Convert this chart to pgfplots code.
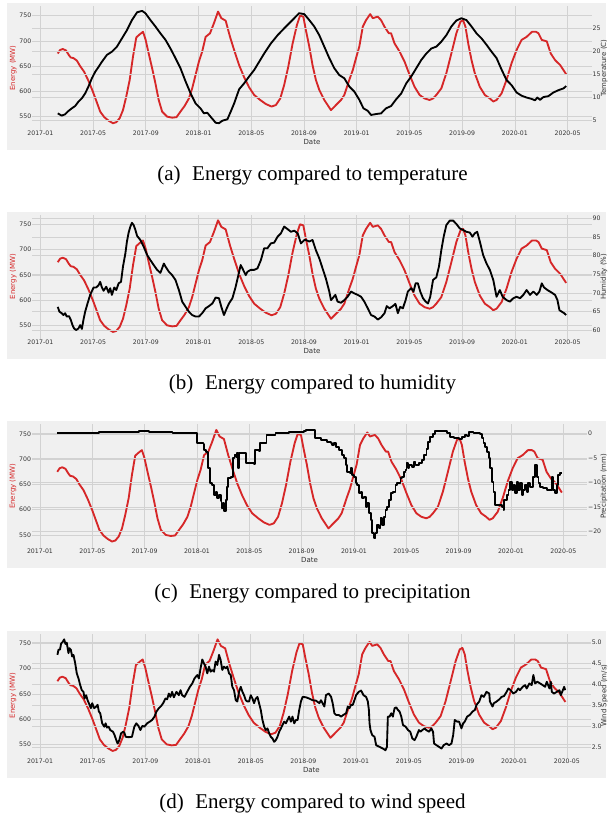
\documentclass[border=0pt]{standalone}
\usepackage{pgfplots}
\usepackage{pgfplotstable}
\pgfplotsset{compat=1.18}
\usepackage{fontspec}
\setmainfont{DejaVu Sans}
\newfontfamily\capfont{Liberation Serif}
\definecolor{bggrey}{HTML}{F0F0F0}
\definecolor{gridgrey}{HTML}{D2D2D2}
\definecolor{ered}{HTML}{D62728}
\definecolor{tickgrey}{HTML}{333333}

\pgfplotstableread{
m E
1.32 675
1.50 682
1.70 684
1.95 681
2.16 672
2.31 667
2.51 666
2.77 661
3.02 650
3.32 639
3.65 621
3.98 600
4.29 578
4.54 560
4.85 549
5.18 542
5.51 537
5.76 539
6.02 547
6.27 563
6.52 590
6.78 623
7.03 669
7.28 707
7.54 713
7.79 718
7.99 702
8.22 675
8.48 646
8.73 616
8.98 583
9.24 560
9.62 550
10.00 548
10.33 549
10.63 560
10.94 571
11.27 586
11.52 606
11.78 633
12.03 659
12.28 679
12.54 708
12.87 715
13.17 735
13.48 758
13.73 745
14.06 740
14.39 708
14.70 682
15.08 652
15.46 628
15.84 608
16.22 593
16.68 583
17.11 575
17.54 570
17.87 573
18.20 586
18.50 613
18.81 649
19.14 695
19.47 732
19.70 750
19.95 748
20.14 722
20.40 689
20.65 652
20.90 623
21.16 603
21.54 583
22.05 563
22.43 573
22.81 583
23.06 593
23.44 623
23.70 642
23.95 666
24.20 689
24.46 728
24.71 741
25.02 753
25.22 745
25.60 748
25.85 741
26.11 728
26.44 715
26.61 715
26.87 695
27.25 679
27.63 659
28.01 633
28.39 609
28.77 593
29.15 586
29.53 583
29.79 586
30.04 593
30.42 606
30.80 636
31.18 675
31.56 715
31.87 738
32.07 741
32.25 728
32.46 695
32.71 662
32.96 636
33.34 609
33.72 593
34.10 586
34.36 580
34.61 583
34.99 596
35.37 623
35.75 656
36.13 682
36.51 702
36.89 708
37.30 718
37.60 718
37.79 715
38.04 702
38.42 699
38.72 675
39.05 662
39.44 652
39.89 634
}\energy

\pgfplotstableread{
m T
1.32 6.45
1.62 5.95
1.88 6.24
2.13 6.96
2.39 7.55
2.64 8.05
2.89 9.0
3.15 9.73
3.40 10.8
3.65 12.3
3.91 14.1
4.16 15.5
4.42 16.6
4.67 17.7
5.05 19.2
5.43 19.9
5.81 21.0
6.19 22.8
6.57 24.6
6.95 26.8
7.34 28.5
7.72 28.8
7.97 28.3
8.35 26.8
8.73 25.4
9.11 23.9
9.49 22.5
9.87 20.6
10.25 18.5
10.63 16.3
11.02 13.4
11.40 10.8
11.78 8.6
12.16 7.5
12.41 6.45
12.66 6.6
12.92 5.7
13.30 4.4
13.55 4.3
13.81 4.85
14.19 5.15
14.44 6.8
14.70 8.6
15.08 11.7
15.46 13.0
15.84 14.5
16.22 15.9
16.60 17.7
16.98 19.5
17.49 21.7
18.00 23.5
18.50 25.0
18.88 26.1
19.26 27.2
19.63 28.3
20.02 28.1
20.40 26.8
20.78 25.4
21.16 23.5
21.54 21.0
21.92 18.5
22.30 16.3
22.68 14.8
23.06 14.1
23.44 12.3
23.82 11.2
24.20 9.4
24.51 7.55
24.84 7.0
25.09 6.1
25.47 6.3
25.85 6.45
26.23 7.55
26.61 8.05
26.99 9.5
27.38 10.8
27.76 13.0
28.14 14.5
28.52 16.3
28.90 18.1
29.28 19.5
29.66 20.6
30.04 21.0
30.42 22.1
30.80 23.5
31.18 25.4
31.56 26.7
31.94 27.2
32.32 26.8
32.71 25.4
33.09 23.9
33.47 22.8
33.85 21.4
34.23 19.9
34.61 18.5
34.99 16.0
35.37 13.7
35.75 12.6
36.13 11.0
36.51 10.3
36.89 9.9
37.27 9.6
37.53 9.3
37.70 9.9
37.91 9.4
38.16 10.0
38.54 10.2
38.92 11.0
39.30 11.5
39.69 11.9
39.89 12.4
}\temp

\pgfplotstableread{
m H
1.32 66.3
1.45 65.0
1.62 64.6
1.75 64.1
1.88 64.6
2.00 63.7
2.18 63.8
2.31 62.8
2.44 61.4
2.56 60.5
2.72 60.1
2.89 60.5
3.02 61.4
3.15 60.4
3.27 62.8
3.40 65.0
3.58 67.2
3.78 69.5
4.04 71.5
4.24 71.5
4.42 72.1
4.54 73.0
4.67 71.5
4.80 70.6
5.00 71.7
5.18 70.1
5.30 71.3
5.43 69.5
5.61 71.5
5.76 70.8
5.94 72.6
6.12 73.0
6.27 77.1
6.45 80.6
6.57 83.8
6.70 86.2
6.83 87.8
6.95 88.8
7.08 88.2
7.21 86.9
7.34 85.3
7.59 84.2
7.84 82.4
8.10 80.2
8.35 78.8
8.60 77.5
8.86 76.2
9.11 75.4
9.37 77.9
9.49 77.1
9.75 75.7
10.00 74.8
10.25 73.5
10.51 70.8
10.76 67.7
11.02 66.3
11.27 65.0
11.52 64.1
11.78 63.7
12.03 63.7
12.28 64.6
12.54 65.9
12.79 66.5
13.05 67.2
13.30 68.8
13.55 68.6
13.73 66.3
13.93 64.1
14.14 65.9
14.31 67.2
14.57 68.6
14.82 71.7
15.08 75.7
15.20 77.5
15.33 76.6
15.58 74.8
15.71 75.7
15.96 76.2
16.22 76.2
16.47 76.6
16.73 78.8
16.98 82.0
17.23 82.0
17.49 83.3
17.74 83.5
18.00 85.1
18.25 86.0
18.50 87.8
18.76 87.1
19.01 86.4
19.26 86.7
19.52 86.0
19.77 83.3
20.03 84.2
20.14 84.2
20.40 83.8
20.65 84.2
20.90 81.5
21.16 79.3
21.41 76.6
21.66 73.9
21.92 70.4
22.05 68.1
22.17 68.6
22.38 69.5
22.55 67.7
22.81 67.4
23.06 68.1
23.31 69.0
23.57 70.4
23.82 69.9
24.08 69.5
24.33 69.0
24.58 67.7
24.84 65.9
25.09 64.1
25.35 63.7
25.60 62.9
25.85 63.5
26.11 64.6
26.28 66.5
26.49 65.9
26.74 66.5
26.94 67.1
27.12 64.6
27.30 66.3
27.50 65.9
27.71 68.1
27.88 70.4
28.14 71.3
28.31 70.4
28.47 72.6
28.64 72.6
28.82 70.4
29.03 68.6
29.23 67.7
29.41 67.2
29.58 69.0
29.79 73.5
30.04 74.2
30.24 77.1
30.42 81.5
30.60 85.1
30.80 88.2
31.06 89.4
31.31 89.4
31.56 88.5
31.82 87.3
32.07 86.9
32.32 86.4
32.58 86.2
32.78 85.1
32.96 86.0
33.14 86.4
33.34 83.8
33.59 80.2
33.85 77.9
34.10 76.2
34.36 73.5
34.61 69.0
34.86 70.8
35.07 69.0
35.37 68.1
35.62 67.7
35.88 68.6
36.13 69.0
36.39 68.6
36.64 69.5
36.89 70.8
37.15 69.5
37.40 70.4
37.66 69.5
37.86 70.4
38.04 72.6
38.21 71.5
38.47 70.8
38.80 70.1
39.05 69.5
39.23 68.1
39.38 65.4
39.56 65.0
39.74 64.6
39.89 64.1
}\humid

\pgfplotstableread{
m P
1.32 0.14
4.54 0.20
7.59 0.47
8.35 0.34
10.13 0.07
11.90 0.0
12.03 -2.03
12.50 -2.24
12.54 -3.39
12.72 -3.73
12.84 -7.12
12.97 -10.17
13.17 -10.51
13.30 -12.54
13.43 -11.86
13.55 -13.22
13.68 -12.54
13.81 -13.69
13.88 -15.25
13.98 -14.24
14.09 -15.80
14.19 -13.56
14.29 -10.85
14.39 -9.15
14.57 -8.81
14.75 -5.08
14.87 -4.41
15.00 -4.75
15.08 -3.93
15.15 -7.12
15.23 -4.07
15.70 -3.93
15.76 -6.10
16.35 -6.24
16.42 -3.39
16.73 -3.53
16.80 -2.03
17.23 -1.90
17.31 -0.34
18.00 0.0
19.01 0.20
19.77 0.27
20.15 0.54
20.32 0.68
20.95 0.68
21.00 -1.02
21.46 -1.36
21.97 -1.69
22.22 -2.03
22.35 -2.37
22.48 -2.03
22.60 -2.71
22.86 -3.39
23.11 -4.41
23.24 -5.08
23.37 -6.44
23.49 -7.80
23.70 -8.14
23.75 -7.12
23.87 -8.47
24.00 -8.81
24.13 -10.17
24.25 -10.51
24.38 -12.20
24.51 -11.86
24.63 -13.22
24.76 -12.88
24.89 -14.92
25.02 -14.24
25.14 -16.27
25.27 -17.63
25.40 -20.34
25.52 -21.36
25.65 -20.34
25.78 -18.64
25.90 -19.32
26.03 -17.29
26.16 -18.64
26.29 -16.95
26.41 -15.59
26.54 -14.92
26.67 -13.56
26.84 -12.20
27.00 -11.86
27.17 -10.51
27.30 -10.17
27.56 -9.15
27.68 -8.81
27.81 -7.80
27.94 -7.46
28.01 -6.10
28.11 -7.12
28.19 -6.44
28.44 -6.78
28.57 -5.76
28.70 -6.44
28.95 -6.10
29.21 -5.42
29.38 -4.41
29.54 -3.25
29.64 -1.69
29.84 -0.81
30.04 -0.14
30.22 0.54
30.60 0.41
31.11 0.0
31.37 -0.68
31.62 -1.02
32.00 -1.22
32.25 -0.81
32.51 -0.34
32.63 -0.54
32.76 0.34
33.14 0.14
33.65 -0.14
33.78 -1.02
33.90 -2.03
34.03 -2.85
34.16 -3.73
34.29 -5.08
34.41 -7.12
34.54 -9.83
34.67 -11.86
34.79 -14.58
35.05 -14.58
35.30 -14.92
35.43 -15.59
35.50 -13.56
35.68 -12.54
35.81 -11.53
35.94 -9.83
36.06 -11.53
36.19 -10.51
36.32 -12.20
36.44 -9.83
36.57 -11.53
36.70 -10.17
36.83 -12.54
36.95 -11.53
37.08 -10.51
37.21 -11.86
37.33 -10.17
37.46 -10.85
37.71 -8.81
37.84 -6.44
37.97 -8.81
38.10 -10.17
38.22 -10.85
38.48 -11.19
38.73 -11.53
38.98 -11.53
39.11 -8.81
39.24 -11.53
39.37 -12.20
39.49 -10.51
39.62 -8.47
39.75 -8.14
39.87 -8.14
}\precip

\pgfplotstableread{
m W
1.32 4.71
1.40 4.83
1.52 4.84
1.60 4.98
1.73 5.02
1.83 5.08
1.93 4.97
2.03 5.00
2.16 4.75
2.23 4.87
2.34 4.83
2.44 4.67
2.54 4.71
2.67 4.51
2.79 4.27
2.92 4.15
3.05 3.99
3.17 3.87
3.30 3.83
3.38 3.67
3.50 3.75
3.61 3.63
3.76 3.52
3.86 3.44
3.96 3.56
4.11 3.44
4.27 3.48
4.37 3.52
4.47 3.36
4.57 3.32
4.72 3.08
4.88 3.00
4.98 3.08
5.08 2.98
5.21 3.00
5.33 2.92
5.54 2.88
5.66 2.80
5.79 2.68
5.89 2.60
6.02 2.68
6.15 2.84
6.30 2.88
6.40 2.86
6.50 2.76
6.73 2.75
6.98 2.76
7.16 3.00
7.31 3.08
7.47 3.02
7.62 2.92
7.77 3.02
7.92 3.00
8.13 3.08
8.33 3.12
8.51 3.16
8.69 3.24
8.84 3.36
9.02 3.44
9.19 3.49
9.35 3.56
9.52 3.67
9.65 3.65
9.78 3.79
9.90 3.71
10.03 3.83
10.16 3.70
10.36 3.83
10.54 3.75
10.67 3.87
10.79 3.75
10.97 3.71
11.17 3.83
11.38 3.95
11.56 4.03
11.73 4.15
11.94 4.23
12.06 4.15
12.19 4.39
12.32 4.60
12.44 4.51
12.57 4.43
12.70 4.27
12.83 4.43
12.95 4.31
13.08 4.35
13.21 4.31
13.33 4.55
13.46 4.47
13.59 4.71
13.71 4.59
13.84 4.35
13.97 4.43
14.10 4.39
14.22 4.43
14.35 4.27
14.48 4.23
14.60 3.95
14.73 3.87
14.86 3.63
14.98 3.60
15.11 3.83
15.24 3.95
15.37 3.83
15.49 3.75
15.62 3.63
15.75 3.60
15.87 3.60
16.00 3.75
16.13 3.67
16.25 3.56
16.38 3.67
16.51 3.71
16.63 3.56
16.76 3.40
16.89 3.16
17.02 3.00
17.14 2.92
17.27 2.96
17.40 2.84
17.52 2.76
17.65 2.72
17.78 2.64
17.90 2.68
18.03 2.76
18.16 2.88
18.29 2.96
18.41 3.04
18.54 3.12
18.67 3.08
18.79 3.16
18.92 3.24
19.05 3.12
19.17 3.24
19.30 3.08
19.43 3.16
19.56 3.16
19.68 3.40
19.81 3.60
19.94 3.71
20.19 3.70
20.44 3.67
20.70 3.63
20.95 3.62
21.21 3.56
21.33 3.63
21.59 3.48
21.71 3.75
21.92 3.79
22.10 3.71
22.22 3.56
22.35 3.32
22.48 3.28
22.68 3.28
22.86 3.24
23.03 3.28
23.24 3.32
23.37 3.48
23.49 3.44
23.62 3.52
23.75 3.52
23.87 3.63
24.00 3.75
24.20 3.83
24.38 3.86
24.56 3.75
24.76 3.71
24.89 3.60
24.97 3.40
25.02 3.08
25.09 2.92
25.22 2.80
25.40 2.76
25.52 2.56
25.78 2.52
26.03 2.48
26.23 2.44
26.34 2.52
26.41 3.24
26.54 3.24
26.67 3.32
26.79 3.24
26.92 3.44
27.05 3.46
27.17 3.40
27.30 3.36
27.43 3.24
27.56 3.04
27.76 3.00
27.94 2.92
28.11 2.88
28.27 2.72
28.44 2.68
28.57 2.76
28.77 2.92
28.88 2.88
29.03 2.92
29.21 2.96
29.33 2.92
29.54 2.88
29.71 2.96
29.84 2.88
29.92 2.60
30.10 2.56
30.30 2.52
30.48 2.48
30.65 2.56
30.86 2.60
31.06 2.56
31.24 2.60
31.37 2.80
31.49 3.16
31.67 3.12
31.82 3.12
32.00 2.96
32.13 3.08
32.25 3.12
32.43 3.24
32.63 3.28
32.84 3.36
33.02 3.40
33.14 3.52
33.35 3.60
33.52 3.75
33.70 3.71
33.90 3.83
34.11 3.79
34.16 3.60
34.36 3.48
34.46 3.56
34.67 3.60
34.87 3.65
35.05 3.71
35.23 3.73
35.43 3.83
35.56 3.91
35.73 3.87
35.94 3.79
36.14 3.83
36.32 3.91
36.44 3.87
36.65 3.95
36.83 3.99
36.95 3.91
37.16 4.03
37.33 3.99
37.46 4.23
37.59 4.03
37.76 4.07
37.97 4.03
38.17 3.99
38.35 3.95
38.48 4.07
38.68 3.91
38.78 4.07
38.86 3.83
39.03 3.79
39.24 3.83
39.44 3.87
39.54 3.75
39.70 3.87
39.80 3.95
39.87 3.87
}\wind

\pgfplotsset{
  base/.style={
    scale only axis, height=124pt,
    xmin=-0.61, xmax=41.82,
    axis line style={draw=none}, tick style={draw=none},
    tick label style={font=\fontsize{6.2}{7}\selectfont, text=tickgrey, inner sep=0.8pt},
    label style={font=\fontsize{7}{8}\selectfont},
    /pgf/number format/assume math mode=true,
    grid style={gridgrey, line width=0.6pt},
    every axis plot/.append style={line width=1.85pt, line join=round},
    anchor=south west,
  },
  leftax/.style={base,
    ymin=523.6, ymax=769.1, ytick={550,600,650,700,750},
    xtick={0,4,...,40},
    xticklabels={2017-01,2017-05,2017-09,2018-01,2018-05,2018-09,2019-01,2019-05,2019-09,2020-01,2020-05},
    xmajorgrids, ymajorgrids,
    xlabel={Date}, ylabel={Energy (MW)},
    xlabel style={at={(axis description cs:0.5,0)}, anchor=center, yshift=-12pt, text=tickgrey},
    ylabel style={at={(axis description cs:-0.0343,0.5)}, anchor=center, text=ered},
  },
  rightax/.style={base,
    axis x line=none, axis y line*=right, ymajorgrids,
    ylabel style={at={(axis description cs:#1,0.5)}, anchor=center, text=tickgrey},
  },
}

\begin{document}
\begin{tikzpicture}[x=1pt,y=1pt]
\path[use as bounding box] (0,0) rectangle (608,817);
% backgrounds
\fill[bggrey] (7,667) rectangle (606,814);
\fill[bggrey] (7,458.3) rectangle (606,605.3);
\fill[bggrey] (7,248.7) rectangle (606,395.7);
\fill[bggrey] (7,39.3) rectangle (606,186.3);

% ---------- (a) temperature
\begin{axis}[leftax, width=559.3pt, at={(32.3pt,687pt)}]
\addplot[ered] table[x=m,y=E] {\energy};
\end{axis}
\begin{axis}[rightax=1.0227, width=559.3pt, at={(32.3pt,687pt)},
  ymin=2.82, ymax=29.87, ytick={5,10,15,20,25}, ylabel={Temperature (C)}]
\addplot[black] table[x=m,y=T] {\temp};
\end{axis}
\node[anchor=base, font=\capfont\fontsize{21}{24}\selectfont] at (312.5,636.5) {(a)\hspace{0.3em} Energy compared to temperature};

% ---------- (b) humidity
\begin{axis}[leftax, width=559.3pt, at={(32.3pt,478.3pt)}]
\addplot[ered] table[x=m,y=E] {\energy};
\end{axis}
\begin{axis}[rightax=1.0222, width=559.3pt, at={(32.3pt,478.3pt)},
  ymin=57.77, ymax=90.98, ytick={60,65,70,75,80,85,90}, ylabel={Humidity (\%)}]
\addplot[black] table[x=m,y=H] {\humid};
\end{axis}
\node[anchor=base, font=\capfont\fontsize{21}{24}\selectfont] at (312.5,427.8) {(b)\hspace{0.3em} Energy compared to humidity};

% ---------- (c) precipitation
\begin{axis}[leftax, width=555.1pt, at={(32.0pt,268.7pt)}]
\addplot[ered] table[x=m,y=E] {\energy};
\end{axis}
\begin{axis}[rightax=1.0304, width=555.1pt, at={(32.0pt,268.7pt)},
  ymin=-23.39, ymax=1.83, ytick={-20,-15,-10,-5,0},
  yticklabels={−20,−15,−10,−5,0}, ylabel={Precipitation (mm)}]
\addplot[black, const plot] table[x=m,y=P] {\precip};
\end{axis}
\node[anchor=base, font=\capfont\fontsize{21}{24}\selectfont] at (312.5,218.2) {(c)\hspace{0.3em} Energy compared to precipitation};

% ---------- (d) wind speed
\begin{axis}[leftax, width=558.8pt, at={(32.0pt,59.3pt)}]
\addplot[ered] table[x=m,y=E] {\energy};
\end{axis}
\begin{axis}[rightax=1.0242, width=558.8pt, at={(32.0pt,59.3pt)},
  ymin=2.262, ymax=5.214, ytick={2.5,3.0,3.5,4.0,4.5,5.0},
  yticklabels={2.5,3.0,3.5,4.0,4.5,5.0}, ylabel={Wind Speed (m/s)}]
\addplot[black] table[x=m,y=W] {\wind};
\end{axis}
\node[anchor=base, font=\capfont\fontsize{21}{24}\selectfont] at (312.5,8.8) {(d)\hspace{0.3em} Energy compared to wind speed};
\end{tikzpicture}
\end{document}
